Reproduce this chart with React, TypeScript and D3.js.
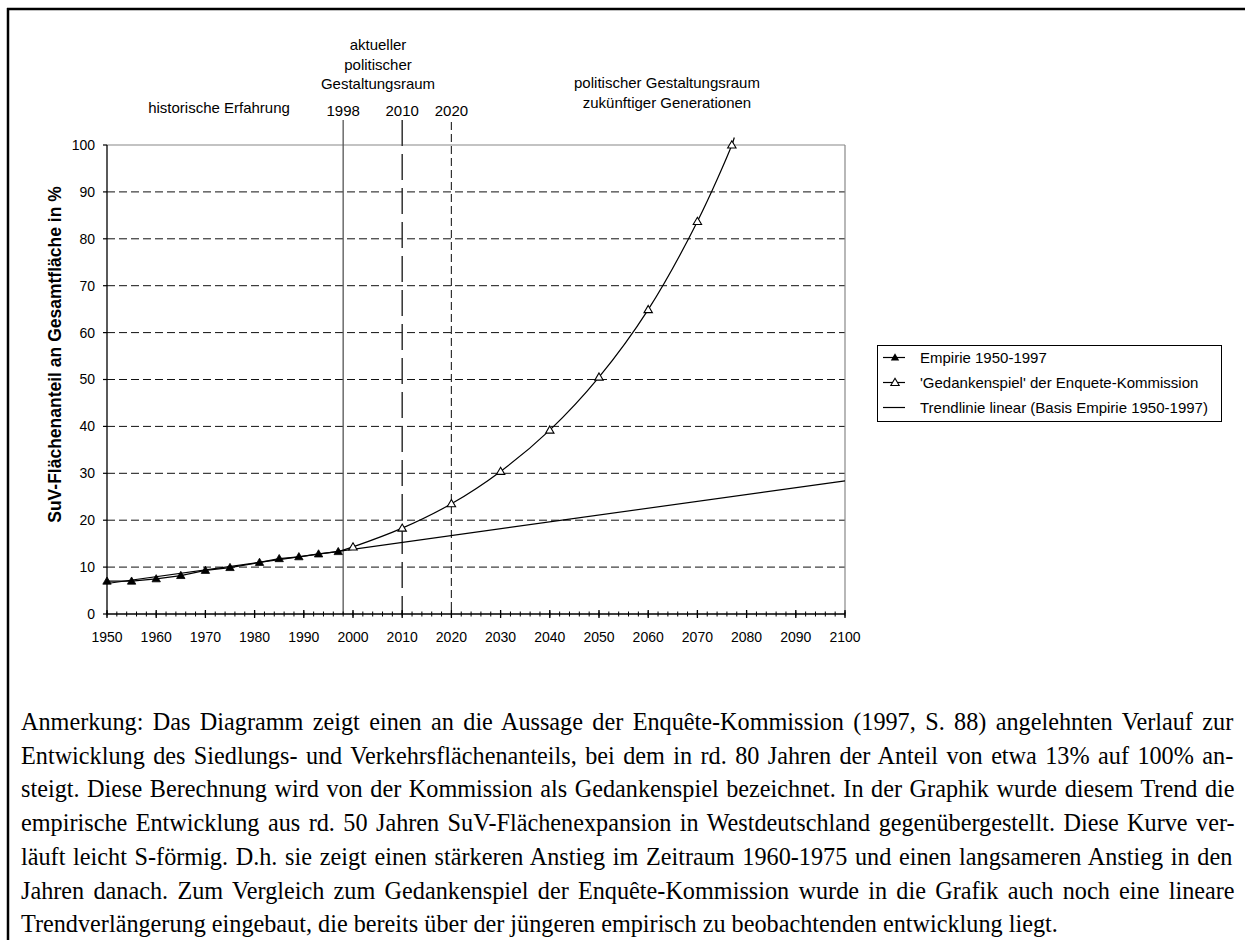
import React, { useMemo } from 'react';
import * as d3 from 'd3';

// Siedlungs- und Verkehrsfläche (SuV), Anteil an Gesamtfläche in %
const EMPIRIE_YEARS = [1950, 1955, 1960, 1965, 1970, 1975, 1981, 1985, 1989, 1993, 1997];
const EMPIRIE_VALUES = [7.0, 7.0, 7.5, 8.2, 9.3, 9.9, 11.0, 11.8, 12.2, 12.8, 13.3];

const GEDANKEN_YEARS = [1997, 2000, 2010, 2020, 2030, 2040, 2050, 2060, 2070, 2077, 2077.5];
const GEDANKEN_VALUES = [13.3, 14.3, 18.3, 23.5, 30.4, 39.2, 50.5, 64.9, 83.7, 100, 101.6];

const TREND_YEARS = [1950, 2100];
const TREND_VALUES = [6.5, 28.4];

const X_TICKS = d3.range(1950, 2101, 10);
const X_MINOR = d3.range(1950, 2101, 2);
const Y_TICKS = d3.range(0, 101, 10);

const PERIOD_YEARS = [1998, 2010, 2020];

const LEGEND_LABELS = [
    'Empirie 1950-1997',
    "'Gedankenspiel' der Enquete-Kommission",
    'Trendlinie linear (Basis Empirie 1950-1997)',
];

const NOTE_LINES = [
    'Anmerkung: Das Diagramm zeigt einen an die Aussage der Enquête-Kommission (1997, S. 88) angelehnten Verlauf zur',
    'Entwicklung des Siedlungs- und Verkehrsflächenanteils, bei dem in rd. 80 Jahren der Anteil von etwa 13% auf 100% an-',
    'steigt. Diese Berechnung wird von der Kommission als Gedankenspiel bezeichnet. In der Graphik wurde diesem Trend die',
    'empirische Entwicklung aus rd. 50 Jahren SuV-Flächenexpansion in Westdeutschland gegenübergestellt. Diese Kurve ver-',
    'läuft leicht S-förmig. D.h. sie zeigt einen stärkeren Anstieg im Zeitraum 1960-1975 und einen langsameren Anstieg in den',
    'Jahren danach. Zum Vergleich zum Gedankenspiel der Enquête-Kommission wurde in die Grafik auch noch eine lineare',
    'Trendverlängerung eingebaut, die bereits über der jüngeren empirisch zu beobachtenden entwicklung liegt.',
];

const SANS = 'Arial, "Liberation Sans", sans-serif';
const SERIF = '"Times New Roman", "Liberation Serif", serif';

const tri = 'M0,-4.2L4.2,3L-4.2,3Z';

const App = () => {
    const width = 1245;
    const height = 940;

    const x = d3.scaleLinear().domain([1950, 2100]).range([107, 845]);
    const y = d3.scaleLinear().domain([0, 100]).range([614, 145]);

    const empirie = EMPIRIE_YEARS.map((yr, i) => [yr, EMPIRIE_VALUES[i]]);
    const gedanken = GEDANKEN_YEARS.map((yr, i) => [yr, GEDANKEN_VALUES[i]]);
    const trend = TREND_YEARS.map((yr, i) => [yr, TREND_VALUES[i]]);

    const straight = d3.line().x(d => x(d[0])).y(d => y(d[1]));
    const smooth = d3.line().x(d => x(d[0])).y(d => y(d[1])).curve(d3.curveCatmullRom.alpha(0.5));

    // justified note text below the chart
    const note = useMemo(() => {
        const ctx = document.createElement('canvas').getContext('2d');
        const left = 21, right = 1235, lastEnd = 1058;
        ctx.font = `100px "Liberation Serif"`;
        const fs = (lastEnd - left) / (ctx.measureText(NOTE_LINES[NOTE_LINES.length - 1]).width / 100);
        ctx.font = `${fs}px "Liberation Serif"`;
        return NOTE_LINES.map((line, i) => {
            const last = i === NOTE_LINES.length - 1;
            const spaces = line.split(' ').length - 1;
            const ws = last ? 0 : (right - left - ctx.measureText(line).width) / spaces;
            return { line, ws, fs, x: left, y: 730 + i * 33.7 };
        });
    }, []);

    return (
        <div style={{ position: 'absolute', left: 0, top: 0 }}>
            <svg width={width} height={height} style={{ display: 'block', background: '#fff' }}>
                {/* frame */}
                <line x1={7} x2={width} y1={9} y2={9} stroke="#000" strokeWidth={2.5} />
                <line x1={8} x2={8} y1={8} y2={height} stroke="#000" strokeWidth={2.5} />

                {/* gridlines */}
                {Y_TICKS.filter(t => t > 0 && t < 100).map(t => (
                    <line key={'g' + t} x1={x(1950)} x2={x(2100)} y1={y(t)} y2={y(t)}
                        stroke="#111" strokeWidth={1} strokeDasharray="8,4" />
                ))}
                <line x1={x(1950)} x2={x(2100)} y1={y(100)} y2={y(100)} stroke="#888" strokeWidth={1.2} />
                <line x1={x(2100)} x2={x(2100)} y1={y(100)} y2={y(0)} stroke="#888" strokeWidth={1.2} />

                {/* period markers */}
                <line x1={x(PERIOD_YEARS[0])} x2={x(PERIOD_YEARS[0])} y1={120} y2={y(0)} stroke="#555" strokeWidth={1.3} />
                <line x1={x(PERIOD_YEARS[1])} x2={x(PERIOD_YEARS[1])} y1={120} y2={y(0)} stroke="#333" strokeWidth={1.5} strokeDasharray="26,8" />
                <line x1={x(PERIOD_YEARS[2])} x2={x(PERIOD_YEARS[2])} y1={122} y2={y(0)} stroke="#333" strokeWidth={1.2} strokeDasharray="8,4" />

                {/* axes */}
                <line x1={x(1950)} x2={x(1950)} y1={y(100)} y2={y(0)} stroke="#000" strokeWidth={1.3} />
                <line x1={x(1950)} x2={x(2100)} y1={y(0)} y2={y(0)} stroke="#000" strokeWidth={1.5} />
                {Y_TICKS.map(t => (
                    <g key={'y' + t}>
                        <line x1={x(1950) - 4} x2={x(1950)} y1={y(t)} y2={y(t)} stroke="#000" strokeWidth={1.2} />
                        <text x={95} y={y(t)} dy="0.35em" textAnchor="end" fontFamily={SANS} fontSize={14}>{t}</text>
                    </g>
                ))}
                {X_MINOR.map(t => (
                    <line key={'m' + t} x1={x(t)} x2={x(t)} y1={y(0) - 2.5} y2={y(0) + 2.5} stroke="#000" strokeWidth={1} />
                ))}
                {X_TICKS.map(t => (
                    <g key={'x' + t}>
                        <line x1={x(t)} x2={x(t)} y1={y(0) - 4} y2={y(0) + 4} stroke="#000" strokeWidth={1.3} />
                        <text x={x(t)} y={642} textAnchor="middle" fontFamily={SANS} fontSize={14}>{t}</text>
                    </g>
                ))}
                <text transform={`translate(61,${(y(0) + y(100)) / 2 - 25}) rotate(-90)`} textAnchor="middle"
                    fontFamily={SANS} fontSize={17.5} fontWeight="bold">SuV-Flächenanteil an Gesamtfläche in %</text>

                {/* series */}
                <path d={straight(trend)} fill="none" stroke="#000" strokeWidth={1.2} />
                <path d={smooth(gedanken)} fill="none" stroke="#000" strokeWidth={1.2} />
                <path d={straight(empirie)} fill="none" stroke="#000" strokeWidth={1.2} />
                {gedanken.filter(d => d[1] <= 100 && d[0] > 1997).map(d => (
                    <path key={'o' + d[0]} d={tri} transform={`translate(${x(d[0])},${y(d[1])})`} fill="#fff" stroke="#000" strokeWidth={1.1} />
                ))}
                {empirie.map(d => (
                    <path key={'f' + d[0]} d={tri} transform={`translate(${x(d[0])},${y(d[1])})`} fill="#000" stroke="#000" strokeWidth={0.8} />
                ))}

                {/* annotations above the plot */}
                <g fontFamily={SANS} fontSize={15} textAnchor="middle" fill="#000">
                    <text x={219} y={113}>historische Erfahrung</text>
                    {PERIOD_YEARS.map(yr => (
                        <text key={'p' + yr} x={x(yr)} y={116}>{yr}</text>
                    ))}
                    <text x={378} y={50}>aktueller</text>
                    <text x={378} y={69.5}>politischer</text>
                    <text x={378} y={89}>Gestaltungsraum</text>
                    <text x={667} y={88}>politischer Gestaltungsraum</text>
                    <text x={667} y={107.5}>zukünftiger Generationen</text>
                </g>

                {/* legend */}
                <rect x={877.5} y={345.5} width={344} height={76} fill="#fff" stroke="#000" strokeWidth={1} />
                {LEGEND_LABELS.map((label, i) => {
                    const ly = 357.5 + i * 25;
                    return (
                        <g key={label}>
                            <line x1={883} x2={905} y1={ly} y2={ly} stroke="#000" strokeWidth={1.2} />
                            {i === 0 && <path d={tri} transform={`translate(895,${ly})`} fill="#000" />}
                            {i === 1 && <path d={tri} transform={`translate(895,${ly})`} fill="#fff" stroke="#000" strokeWidth={1.1} />}
                            <text x={920} y={ly} dy="0.35em" fontFamily={SANS} fontSize={15}>{label}</text>
                        </g>
                    );
                })}

                {/* note */}
                {note.map(n => (
                    <text key={n.y} x={n.x} y={n.y} fontFamily={SERIF} fontSize={n.fs}
                        style={{ wordSpacing: `${n.ws}px` }}>{n.line}</text>
                ))}
            </svg>
        </div>
    );
};

export default App;
